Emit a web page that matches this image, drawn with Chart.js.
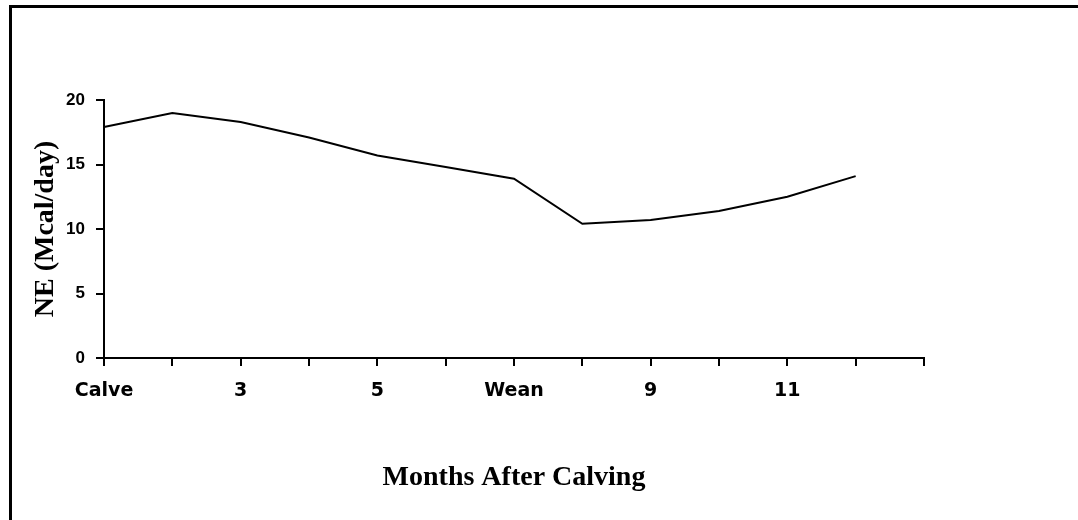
<!DOCTYPE html>
<html>
<head>
<meta charset="utf-8">
<script src="https://cdn.jsdelivr.net/npm/chart.js@4"></script>
<style>
  html, body { margin: 0; padding: 0; background: #fff; }
  #frame {
    position: absolute; left: 9px; top: 5px; right: 0; bottom: 0;
    border-left: 3px solid #000; border-top: 3px solid #000;
  }
  #wrap { position: absolute; left: 0; top: 0; width: 1078px; height: 520px; }
</style>
</head>
<body>
<div id="frame"></div>
<div id="wrap"><canvas id="neChart" width="1078" height="520"></canvas></div>
<script>
// months after calving, 13 slots on the axis (last one has no data)
var months = ["Calve", "2", "3", "4", "5", "6", "Wean", "8", "9", "10", "11", "12", ""];
// net energy requirement, Mcal/day
var neValues = [17.9, 19.0, 18.3, 17.1, 15.7, 14.8, 13.9, 10.4, 10.7, 11.4, 12.5, 14.1];
var yTicks = [0, 5, 10, 15, 20];

var xTickFont = { family: "DejaVu Sans", size: 19, weight: "bold" };
var yTickFont = { family: "Liberation Sans", size: 17, weight: "bold" };
var titleFont = { family: "Liberation Serif", size: 28, weight: "bold" };

new Chart("neChart", {
  type: "line",
  data: {
    labels: months,
    datasets: [
      {
        data: neValues,
        borderColor: "#000",
        borderWidth: 2,
        pointRadius: 0,
        tension: 0,
        fill: false,
      },
    ],
  },
  options: {
    responsive: false,
    animation: false,
    layout: { padding: { top: 100, right: 154, bottom: 0, left: 0 } },
    plugins: { legend: { display: false }, tooltip: { enabled: false } },
    scales: {
      x: {
        type: "category",
        offset: false,
        grid: { drawOnChartArea: false, drawTicks: true, tickLength: 8, color: "#000", lineWidth: 2 },
        border: { color: "#000", width: 2 },
        ticks: {
          autoSkip: false,
          maxRotation: 0,
          padding: 14,
          color: "#000",
          font: xTickFont,
          callback: function (val, i) {
            return i % 2 == 0 ? months[i] : "";
          },
        },
        title: {
          display: true,
          text: "Months After Calving",
          color: "#000",
          font: titleFont,
          padding: { top: 0, bottom: 25 },
        },
        afterFit: function (scale) {
          scale.height = 162;
        },
      },
      y: {
        min: 0,
        max: 20,
        afterBuildTicks: function (scale) {
          scale.ticks = yTicks.map(function (v) { return { value: v }; });
        },
        grid: { drawOnChartArea: false, drawTicks: true, tickLength: 8, color: "#000", lineWidth: 2 },
        border: { color: "#000", width: 2 },
        ticks: { padding: 11, color: "#000", font: yTickFont },
        title: {
          display: true,
          text: "NE (Mcal/day)",
          color: "#000",
          font: titleFont,
          padding: { top: 29, bottom: 0 },
        },
        afterFit: function (scale) {
          scale.width = 104;
        },
      },
    },
  },
});
</script>
</body>
</html>
